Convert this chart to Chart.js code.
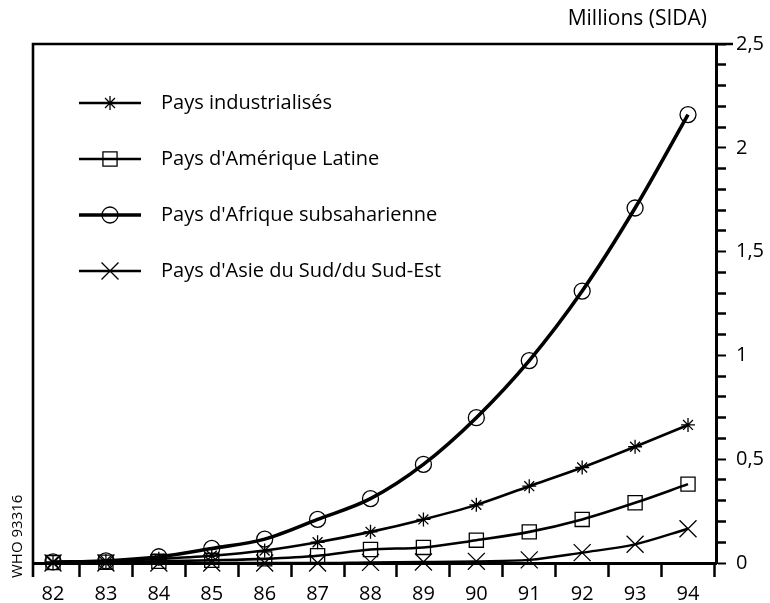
<!DOCTYPE html>
<html><head><meta charset="utf-8">
<script src="https://cdn.jsdelivr.net/npm/chart.js@4.4.1/dist/chart.umd.min.js"></script>
<style>html,body{margin:0;padding:0;background:#fff}#wrap{width:770px;height:603px}</style>
</head><body><div id="wrap"><canvas id="c" width="770" height="603"></canvas></div>
<script>
// ---- data ----
const years = [82, 83, 84, 85, 86, 87, 88, 89, 90, 91, 92, 93, 94];
const seriesNames = ["Pays industrialisés", "Pays d'Amérique Latine", "Pays d'Afrique subsaharienne", "Pays d'Asie du Sud/du Sud-Est"];
const industrialises = [0.005, 0.01, 0.02, 0.035, 0.06, 0.1, 0.15, 0.21, 0.28, 0.37, 0.46, 0.56, 0.665];
const ameriqueLatine = [0.002, 0.004, 0.008, 0.013, 0.02, 0.035, 0.065, 0.075, 0.11, 0.15, 0.21, 0.29, 0.38];
const afrique = [0.005, 0.01, 0.03, 0.07, 0.115, 0.21, 0.31, 0.475, 0.7, 0.975, 1.31, 1.71, 2.16];
const asie = [0, 0, 0, 0, 0, 0, 0.003, 0.005, 0.008, 0.015, 0.05, 0.09, 0.165];
const yMajorLabels = {0: "0", 5: "0,5", 10: "1", 15: "1,5", 20: "2", 25: "2,5"};
const axisTitle = "Millions (SIDA)";
const sourceNote = "WHO 93316";

const FONT = "'Open Sans', 'DejaVu Sans', sans-serif";

function toPoints(arr) { return arr.map((v, i) => ({x: years[i], y: v})); }

function markerPath(ctx, style, x, y, r) {
  ctx.beginPath();
  if (style === 'circle') { ctx.arc(x, y, r, 0, Math.PI * 2); }
  else if (style === 'rect') { const s = Math.SQRT1_2 * r; ctx.rect(x - s, y - s, 2 * s, 2 * s); }
  else if (style === 'crossRot') { const s = Math.SQRT1_2 * r; ctx.moveTo(x - s, y - s); ctx.lineTo(x + s, y + s); ctx.moveTo(x - s, y + s); ctx.lineTo(x + s, y - s); }
  else if (style === 'star') {
    ctx.moveTo(x - r, y); ctx.lineTo(x + r, y); ctx.moveTo(x, y - r); ctx.lineTo(x, y + r);
    const s = Math.SQRT1_2 * r; ctx.moveTo(x - s, y - s); ctx.lineTo(x + s, y + s); ctx.moveTo(x - s, y + s); ctx.lineTo(x + s, y - s);
  }
  ctx.stroke();
}
function makeSwatch(style, lw, r) {
  const c = document.createElement('canvas');
  c.width = 62; c.height = 26;
  const ctx = c.getContext('2d');
  ctx.strokeStyle = '#000';
  ctx.lineWidth = lw;
  ctx.beginPath(); ctx.moveTo(0, 13); ctx.lineTo(62, 13); ctx.stroke();
  ctx.lineWidth = 1.3;
  markerPath(ctx, style, 31, 13, r);
  return c;
}

const styles = [
  {data: industrialises, pointStyle: 'star', radius: 7, lw: 2.6},
  {data: ameriqueLatine, pointStyle: 'rect', radius: 10, lw: 2.6},
  {data: afrique, pointStyle: 'circle', radius: 8, lw: 3.6},
  {data: asie, pointStyle: 'crossRot', radius: 12, lw: 2.4}
];
const swatches = styles.map(s => makeSwatch(s.pointStyle, s.lw, s.radius));

const framePlugin = {
  id: 'frame',
  afterDraw(chart) {
    const {ctx, chartArea: a} = chart;
    ctx.save();
    ctx.strokeStyle = '#000';
    ctx.lineWidth = 2.6;
    ctx.beginPath();
    ctx.moveTo(a.left, a.bottom + 14);
    ctx.lineTo(a.left, a.top);
    ctx.lineTo(a.right + 17, a.top);
    ctx.stroke();
    ctx.fillStyle = '#000';
    ctx.font = "21px " + FONT;
    ctx.textAlign = 'right';
    ctx.textBaseline = 'middle';
    ctx.fillText(axisTitle, a.right - 9, a.top - 25);
    ctx.translate(18, a.bottom + 15);
    ctx.rotate(-Math.PI / 2);
    ctx.font = "15px " + FONT;
    ctx.textAlign = 'left';
    ctx.fillText(sourceNote, 0, 0);
    ctx.restore();
  }
};

function draw() {
  new Chart(document.getElementById('c'), {
    type: 'line',
    data: {
      datasets: styles.map((s, i) => ({
        label: seriesNames[i],
        data: toPoints(s.data),
        borderColor: '#000',
        borderWidth: s.lw,
        pointStyle: s.pointStyle,
        pointRadius: s.radius,
        pointBorderWidth: 1.3,
        pointBorderColor: '#000',
        pointBackgroundColor: 'rgba(0,0,0,0)',
        cubicInterpolationMode: 'monotone',
        fill: false,
        clip: false
      }))
    },
    options: {
      responsive: false,
      animation: false,
      events: [],
      layout: {padding: {left: 33, top: 44, right: 0, bottom: 0}},
      plugins: {
        tooltip: {enabled: false},
        legend: {
          position: 'chartArea',
          align: 'start',
          title: {display: true, text: '', font: {size: 10, family: FONT}, padding: {top: 45, bottom: 0}},
          labels: {
            usePointStyle: true,
            pointStyleWidth: 82,
            padding: 36,
            color: '#000',
            font: {size: 20, family: FONT},
            generateLabels(chart) {
              const items = Chart.defaults.plugins.legend.labels.generateLabels(chart);
              items.forEach((it, i) => { it.pointStyle = swatches[i]; });
              return items;
            }
          }
        }
      },
      scales: {
        x: {
          type: 'linear',
          position: 'bottom',
          min: 81.622,
          max: 94.529,
          afterFit(scale) { scale.height = 40; },
          grid: {offset: true, drawOnChartArea: false, tickLength: 14, tickWidth: 2.5, tickColor: '#000'},
          border: {display: true, color: '#000', width: 3},
          ticks: {
            stepSize: 1,
            includeBounds: false,
            autoSkip: false,
            maxRotation: 0,
            padding: 5,
            color: '#000',
            font: {size: 20, family: FONT},
            callback: (v) => String(v)
          }
        },
        y: {
          type: 'linear',
          position: 'right',
          min: 0,
          max: 2.5,
          afterFit(scale) { scale.width = 54; },
          grid: {
            drawOnChartArea: false,
            tickLength: 10,
            tickColor: '#000',
            tickWidth: (c) => (Math.round(c.tick.value * 10) % 5 === 0 ? 2 : 2.5)
          },
          border: {display: true, color: '#000', width: 3},
          ticks: {
            stepSize: 0.1,
            autoSkip: false,
            padding: 10,
            color: '#000',
            font: {size: 20, family: FONT},
            callback: (v) => {
              const k = Math.round(v * 10);
              return (k in yMajorLabels) ? yMajorLabels[k] : '';
            }
          }
        }
      }
    },
    plugins: [framePlugin]
  });
}
if (document.fonts && document.fonts.load) {
  Promise.all([document.fonts.load("18px 'Open Sans'"), document.fonts.load("20px 'Open Sans'")]).then(draw, draw);
} else { draw(); }
</script>
</body></html>
